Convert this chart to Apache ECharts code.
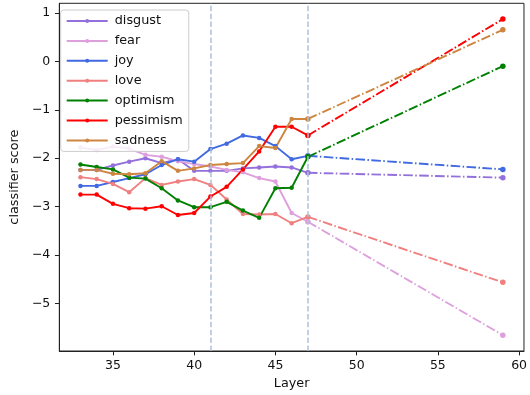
<!DOCTYPE html>
<html><head><meta charset="utf-8">
<script src="https://cdn.jsdelivr.net/npm/echarts@6/dist/echarts.min.js"></script>
<style>html,body{margin:0;padding:0;background:#fff}#c{width:530px;height:395px}</style>
</head><body><div id="c"></div>
<script>
const layers = [33,34,35,36,37,38,39,40,41,42,43,44,45,46,47,59];
const emotions = ['disgust','fear','joy','love','optimism','pessimism','sadness'];
const disgust   = [-2.24,-2.24,-2.15,-2.07,-2.00,-2.10,-2.02,-2.26,-2.26,-2.26,-2.21,-2.19,-2.17,-2.19,-2.30,-2.40];
const fear      = [-1.78,-1.83,-1.76,-1.80,-1.93,-1.97,-2.06,-2.12,-2.17,-2.24,-2.29,-2.41,-2.48,-3.13,-3.31,-5.65];
const joy       = [-2.57,-2.57,-2.49,-2.41,-2.33,-2.14,-2.02,-2.07,-1.81,-1.70,-1.53,-1.58,-1.75,-2.02,-1.95,-2.23];
const love      = [-2.39,-2.43,-2.53,-2.70,-2.41,-2.55,-2.48,-2.43,-2.55,-2.85,-3.15,-3.16,-3.15,-3.34,-3.21,-4.56];
const optimism  = [-2.13,-2.18,-2.23,-2.40,-2.42,-2.62,-2.87,-3.01,-3.01,-2.90,-3.08,-3.23,-2.62,-2.61,-1.97,-0.10];
const pessimism = [-2.75,-2.75,-2.94,-3.03,-3.04,-2.99,-3.17,-3.13,-2.79,-2.59,-2.23,-1.86,-1.35,-1.35,-1.53,0.87];
const sadness   = [-2.24,-2.24,-2.32,-2.33,-2.31,-2.06,-2.26,-2.21,-2.14,-2.12,-2.10,-1.75,-1.79,-1.19,-1.19,0.65];
const markerLayers = [41, 47];
const xTicks = [35,40,45,50,55,60];
const yTicks = [-5,-4,-3,-2,-1,0,1];

const valuesByEmotion = [disgust, fear, joy, love, optimism, pessimism, sadness];
const colors = ['#9370DB','#DDA0DD','#4169E1','#F08080','#008000','#FF0000','#CD853F'];
const breakIdx = layers.indexOf(47);
const FONT = 'DejaVu Sans';
const series = [];
emotions.forEach((name, i) => {
  const vals = valuesByEmotion[i];
  series.push({
    type: 'line', name: name,
    data: layers.slice(0, breakIdx + 1).map((l, j) => [l, vals[j]]),
    symbol: 'circle', symbolSize: 4.5, showAllSymbol: true,
    lineStyle: { color: colors[i], width: 1.9 },
    itemStyle: { color: colors[i] },
    emphasis: { disabled: true }, z: 2
  });
});
emotions.forEach((name, i) => {
  const vals = valuesByEmotion[i];
  series.push({
    type: 'line', name: name + ' (proj)',
    data: layers.slice(breakIdx).map((l, j) => [l, vals[breakIdx + j]]),
    symbol: 'circle', symbolSize: 5.5, showAllSymbol: true,
    lineStyle: { color: colors[i], width: 1.9, type: [9.6, 2.4, 1.5, 2.4] },
    itemStyle: { color: colors[i] },
    emphasis: { disabled: true }, z: 2
  });
});
series.push({
  type: 'line', name: 'markers', data: [], z: 10,
  markLine: {
    silent: true, symbol: 'none', z: 10, animation: false,
    label: { show: false },
    lineStyle: { color: '#adc2dc', width: 1.5, type: [5.5, 2.4] },
    data: markerLayers.map(x => ({ xAxis: x }))
  }
});

const chart = echarts.init(document.getElementById('c'), null, { renderer: 'canvas' });
chart.setOption({
  animation: false,
  backgroundColor: '#fff',
  grid: { left: 54, top: 3.3, right: 4.3, bottom: 40, containLabel: false,
          show: true, borderColor: '#222', borderWidth: 1, backgroundColor: 'transparent' },
  legend: {
    data: emotions, orient: 'vertical', left: 60.7, top: 10,
    padding: [4, 6, 4, 5], itemWidth: 41, itemHeight: 5, itemGap: 5.9,
    backgroundColor: 'rgba(255,255,255,0.8)', borderColor: '#cccccc', borderWidth: 1, borderRadius: 3,
    textStyle: { fontFamily: FONT, fontSize: 12.8, color: '#111', lineHeight: 14, padding: [0, 0, 0, 2] },
    selectedMode: false
  },
  xAxis: {
    type: 'value', min: 31.7, max: 60.3,
    name: 'Layer', nameLocation: 'middle', nameGap: 26,
    nameTextStyle: { fontFamily: FONT, fontSize: 12.8, color: '#111' },
    axisLine: { show: true, onZero: false, lineStyle: { color: '#222', width: 1 } },
    axisTick: { show: true, inside: false, length: 4.4, customValues: xTicks, lineStyle: { color: '#222' } },
    axisLabel: { customValues: xTicks, margin: 8, fontFamily: FONT, fontSize: 12.5, color: '#111' },
    splitLine: { show: false }
  },
  yAxis: {
    type: 'value', min: -5.976, max: 1.196,
    name: 'classifier score', nameLocation: 'middle', nameGap: 35, nameRotate: 90,
    nameTextStyle: { fontFamily: FONT, fontSize: 12.8, color: '#111' },
    axisLine: { show: true, onZero: false, lineStyle: { color: '#222', width: 1 } },
    axisTick: { show: true, inside: false, length: 4.4, customValues: yTicks, lineStyle: { color: '#222' } },
    axisLabel: { customValues: yTicks, margin: 9, fontFamily: FONT, fontSize: 12.5, color: '#111',
                 formatter: v => String(v).replace('-', '\u2212') },
    splitLine: { show: false }
  },
  series: series
});
</script></body></html>
